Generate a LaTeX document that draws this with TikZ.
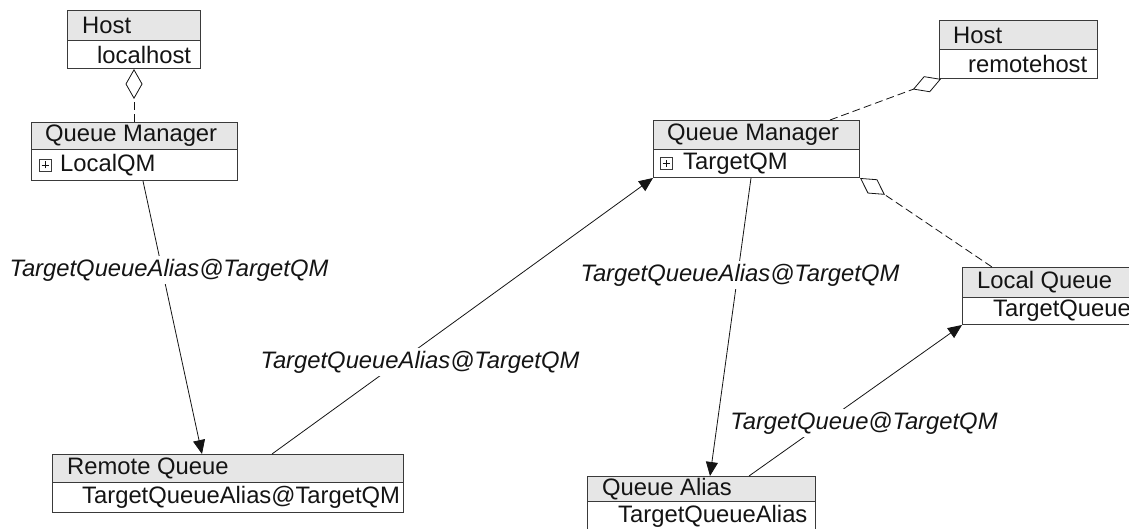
\documentclass[tikz,border=0pt]{standalone}
\usepackage{fontspec}
\setmainfont{Liberation Sans}
\usetikzlibrary{arrows.meta}
\definecolor{hdrfill}{HTML}{E6E6E6}
\definecolor{boxline}{HTML}{3A3A3A}
\definecolor{ink}{HTML}{141414}
\begin{document}
\begin{tikzpicture}[x=1pt,y=-1pt,
  hdr/.style 2 args={draw=boxline, fill=hdrfill, line width=1pt, anchor=north west, inner sep=0pt, minimum width=#1, minimum height=#2},
  bdy/.style 2 args={draw=boxline, fill=white, line width=1pt, anchor=north west, inner sep=0pt, minimum width=#1, minimum height=#2},
  txt/.style={anchor=west, inner sep=0pt, font=\fontsize{23.8}{28}\selectfont, text=ink},
  lbl/.style={fill=white, inner sep=3pt, font=\fontsize{23.8}{28}\selectfont\itshape, text=ink},
  plusbox/.style={draw=boxline, line width=0.7pt, minimum size=12pt, inner sep=0pt},
  conn/.style={draw=ink, line width=0.8pt, -{Triangle[length=14pt,width=12pt]}},
  agg/.style={draw=ink, line width=0.8pt, dash pattern=on 8pt off 4pt, -{Diamond[open, length=30pt, width=17pt, line width=0.8pt]}}
]
\useasboundingbox (0,0) rectangle (1129,529);

% Host localhost
\node[hdr={133pt}{30pt}] (h1h) at (67,10) {};
\node[bdy={133pt}{28pt}] (h1b) at (67,40) {};
\node[txt] (h1t) at ([xshift=15pt]h1h.west) {Host};
\node[txt] (h1v) at ([xshift=30pt]h1b.west) {localhost};

% Queue Manager LocalQM
\node[hdr={206pt}{27pt}] (q1h) at (31,122) {};
\node[bdy={206pt}{31pt}] (q1b) at (31,149) {};
\node[txt] (q1t) at ([xshift=14pt]q1h.west) {Queue Manager};
\node[txt] (q1v) at ([xshift=29pt]q1b.west) {LocalQM};
\node[plusbox] (p1) at ([xshift=14pt]q1b.west) {};
\draw[line width=0.7pt, draw=ink] ([xshift=-3.5pt]p1.center) -- ([xshift=3.5pt]p1.center) ([yshift=-3.5pt]p1.center) -- ([yshift=3.5pt]p1.center);

% Host remotehost
\node[hdr={158pt}{29pt}] (h2h) at (939,20) {};
\node[bdy={158pt}{29pt}] (h2b) at (939,49) {};
\node[txt] (h2t) at ([xshift=14pt]h2h.west) {Host};
\node[txt] (h2v) at ([xshift=29pt]h2b.west) {remotehost};

% Queue Manager TargetQM
\node[hdr={206pt}{29pt}] (q2h) at (653,120) {};
\node[bdy={206pt}{28pt}] (q2b) at (653,149) {};
\node[txt] (q2t) at ([xshift=14pt]q2h.west) {Queue Manager};
\node[txt] (q2v) at ([xshift=30pt]q2b.west) {TargetQM};
\node[plusbox] (p2) at ([xshift=13pt]q2b.west) {};
\draw[line width=0.7pt, draw=ink] ([xshift=-3.5pt]p2.center) -- ([xshift=3.5pt]p2.center) ([yshift=-3.5pt]p2.center) -- ([yshift=3.5pt]p2.center);

% Local Queue
\node[hdr={175pt}{30pt}] (lqh) at (962,267) {};
\node[bdy={175pt}{27pt}] (lqb) at (962,297) {};
\node[txt] (lqt) at ([xshift=15pt]lqh.west) {Local Queue};
\node[txt] (lqv) at ([xshift=31pt]lqb.west) {TargetQueue};

% Remote Queue
\node[hdr={351pt}{28pt}] (rqh) at (52,454) {};
\node[bdy={351pt}{30pt}] (rqb) at (52,482) {};
\node[txt] (rqt) at ([xshift=15pt]rqh.west) {Remote Queue};
\node[txt] (rqv) at ([xshift=30pt]rqb.west) {TargetQueueAlias@TargetQM};

% Queue Alias
\node[hdr={228pt}{25pt}] (qah) at (587,476) {};
\node[bdy={228pt}{30pt}] (qab) at (587,501) {};
\node[txt] (qat) at ([xshift=15pt]qah.west) {Queue Alias};
\node[txt] (qav) at ([xshift=31pt]qab.west) {TargetQueueAlias};

% aggregations
\draw[agg] (h1b.south |- q1h.north) -- (h1b.south);
\draw[agg] ([xshift=177pt]q2h.north west) -- ([xshift=2pt]h2b.south west);
\draw[agg] ([xshift=30pt]lqh.north west) -- (q2b.south east);

% associations
\draw[conn] ([xshift=112pt]q1b.south west) -- ([xshift=150pt]rqh.north west);
\draw[conn] ([xshift=220pt]rqh.north west) -- (q2b.south west);
\draw[conn] ([xshift=98pt]q2b.south west) -- ([xshift=123pt]qah.north west);
\draw[conn] ([xshift=162pt]qah.north west) -- (lqb.south west);

% labels
\node[lbl] (l1) at (169,270) {TargetQueueAlias@TargetQM};
\node[lbl] (l2) at (420,362) {TargetQueueAlias@TargetQM};
\node[lbl] (l3) at (740,275) {TargetQueueAlias@TargetQM};
\node[lbl] (l4) at (864,423) {TargetQueue@TargetQM};
\end{tikzpicture}
\end{document}
